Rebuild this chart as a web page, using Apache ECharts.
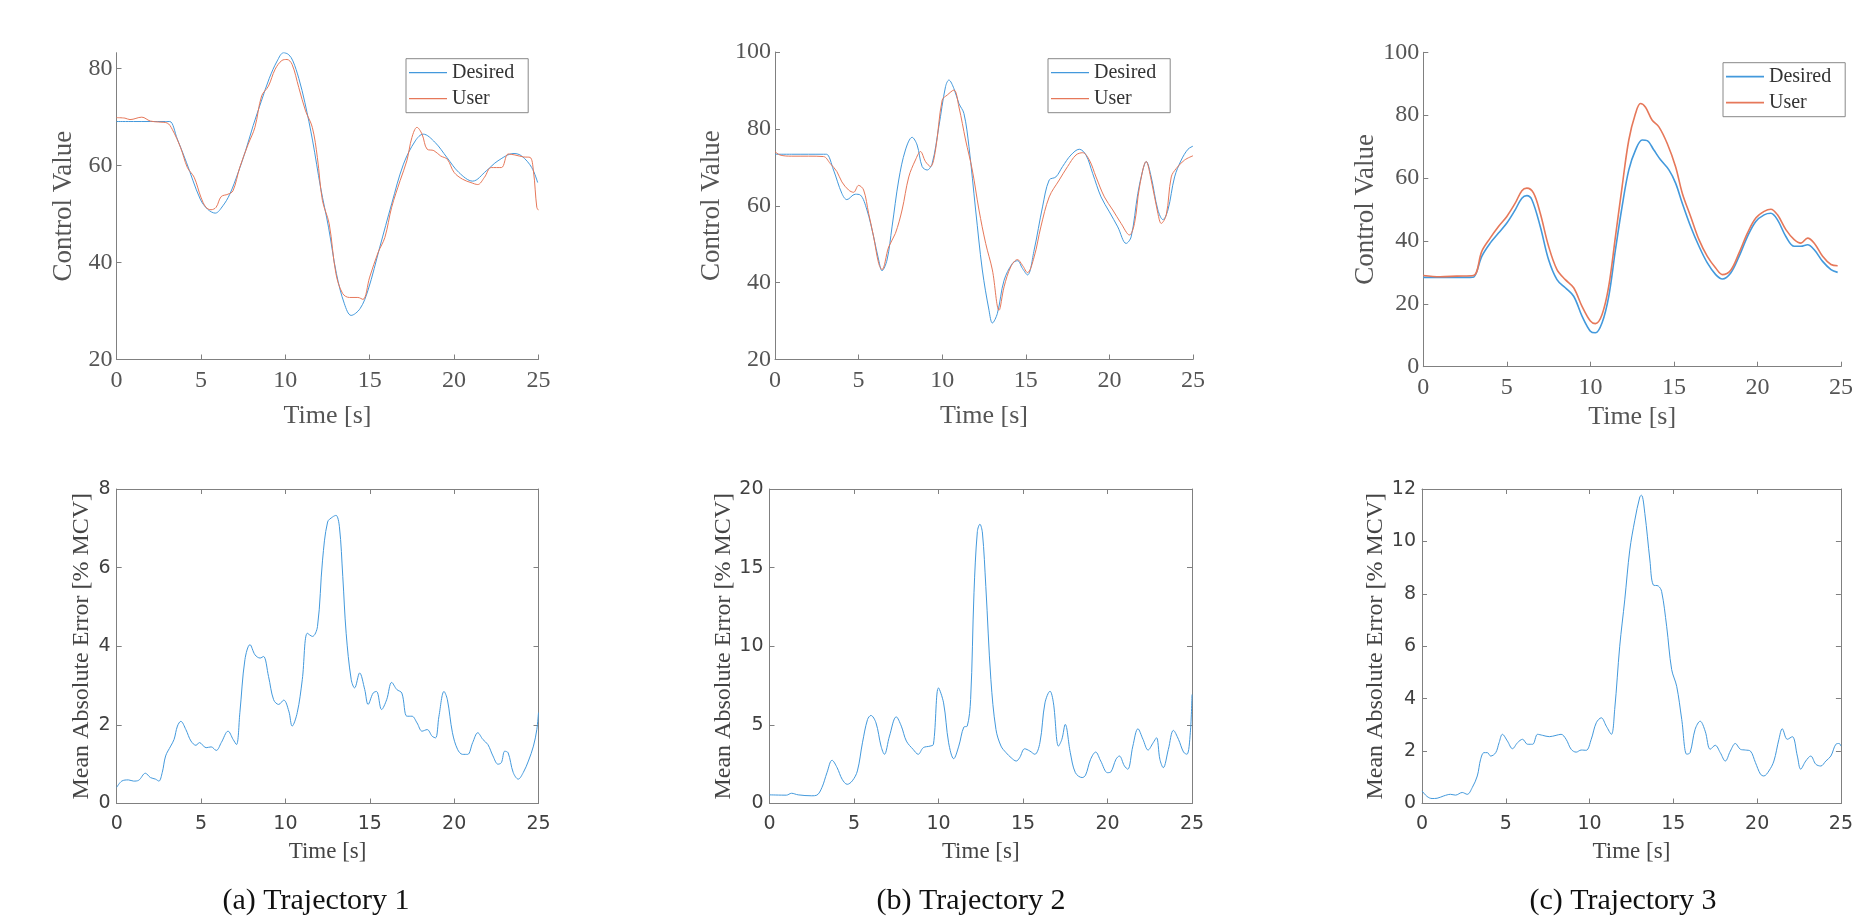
<!DOCTYPE html>
<html>
<head>
<meta charset="utf-8">
<title>Trajectories</title>
<script src="https://cdn.jsdelivr.net/npm/echarts@6/dist/echarts.min.js"></script>
<style>
  html, body { margin: 0; padding: 0; background: #fff; }
  #chart { width: 1856px; height: 919px; }
</style>
</head>
<body>
<div id="chart"></div>
<script>
// Trajectory 1 - control value
const t1DesiredTime = [0, 1, 2, 2.9, 3.16, 3.6, 4.14, 4.96, 5.4, 5.85, 6.3, 6.71, 7.2, 7.65, 8.1, 8.58, 9.05, 9.52, 9.9, 10.2, 10.45, 10.8, 11.16, 11.62, 12.09, 12.56, 13.03, 13.5, 13.9, 14.43, 14.9, 15.6, 16.3, 17.0, 17.7, 18.17, 18.87, 19.57, 20.28, 21.1, 21.9, 22.6, 23.55, 24.0, 24.6, 24.95];
const t1DesiredValue = [69.1, 69.1, 69.1, 69.1, 69.1, 65.5, 60.7, 53.1, 51.0, 50.2, 51.7, 54.1, 58.5, 63.1, 68.3, 73.3, 78.0, 81.6, 83.3, 82.9, 81.6, 78.0, 73.0, 65.1, 55.5, 47.3, 37.7, 31.5, 29.1, 30.5, 34.3, 43.2, 52.1, 60.3, 65.1, 66.5, 64.8, 61.7, 58.6, 56.8, 58.9, 61.0, 62.5, 62.0, 59.6, 56.5];
const t1UserTime = [0, 0.5, 0.8, 1.5, 2, 2.5, 3, 3.3, 3.8, 4.2, 4.6, 5, 5.3, 5.6, 5.9, 6.2, 6.6, 6.9, 7.3, 7.8, 8.2, 8.6, 9, 9.4, 9.8, 10.1, 10.4, 10.8, 11.2, 11.6, 11.9, 12.2, 12.6, 13, 13.4, 13.8, 14.3, 14.6, 15, 15.5, 15.9, 16.3, 16.8, 17.2, 17.5, 17.8, 18.1, 18.4, 18.8, 19.2, 19.6, 20, 20.5, 21, 21.4, 21.8, 22.2, 22.8, 23.2, 23.6, 24.1, 24.5, 24.7, 24.9, 25];
const t1UserValue = [69.9, 69.8, 69.5, 70.0, 69.2, 69.0, 68.8, 67.5, 63.7, 59.6, 57.6, 53.5, 51.4, 50.9, 51.4, 53.6, 54.1, 54.8, 59.6, 64.4, 67.9, 74.4, 76.4, 79.9, 81.7, 81.9, 80.9, 76.1, 71.3, 67.9, 61.7, 52.8, 48.0, 37.7, 33.6, 32.8, 32.8, 32.4, 37.0, 42.1, 45.2, 51.4, 56.9, 61.0, 65.8, 67.9, 66.5, 63.4, 63.1, 62.0, 61.3, 58.6, 57.2, 56.5, 56.1, 57.6, 59.6, 59.6, 62.4, 62.2, 61.8, 61.7, 58.9, 51.4, 50.8];

// Trajectory 2 - control value
const t2DesiredTime = [0, 1, 2, 2.9, 3.08, 3.5, 4, 4.3, 4.8, 5.1, 5.5, 5.9, 6.2, 6.4, 6.7, 7, 7.4, 7.8, 8.2, 8.5, 8.8, 9.1, 9.4, 9.8, 10.2, 10.4, 10.7, 11, 11.3, 11.6, 12, 12.4, 12.8, 13, 13.3, 13.7, 14.2, 14.5, 14.8, 15.1, 15.5, 16, 16.4, 16.8, 17.2, 17.7, 18.2, 18.6, 19, 19.5, 20, 20.5, 21, 21.3, 21.7, 22, 22.2, 22.5, 22.9, 23.2, 23.5, 23.9, 24.3, 24.7, 25];
const t2DesiredValue = [73.4, 73.4, 73.4, 73.4, 73.4, 69.3, 63.2, 61.6, 63.0, 62.8, 58.9, 51.9, 45.9, 43.1, 45.9, 54.5, 66.7, 74.5, 77.8, 75.8, 70.2, 69.3, 71.0, 80.6, 91.0, 92.7, 90.5, 86.6, 84.0, 75.4, 58.9, 43.3, 32.8, 29.5, 32.0, 40.6, 45.0, 45.7, 43.7, 42.0, 48.5, 59.7, 66.7, 67.5, 70.2, 73.2, 74.7, 73.2, 68.4, 62.3, 58.4, 54.5, 50.2, 51.9, 63.2, 69.3, 71.5, 67.5, 58.9, 56.4, 58.9, 67.5, 71.9, 74.7, 75.5];
const t2UserTime = [0, 0.3, 1, 2, 2.9, 3.3, 3.7, 4, 4.4, 4.7, 5, 5.3, 5.6, 5.9, 6.2, 6.4, 6.8, 7.2, 7.6, 8, 8.4, 8.7, 9, 9.3, 9.6, 10, 10.3, 10.7, 11, 11.4, 11.8, 12.2, 12.6, 13, 13.4, 13.7, 14.1, 14.5, 14.8, 15.1, 15.5, 15.9, 16.4, 17, 17.5, 18, 18.4, 18.8, 19.2, 19.7, 20.2, 20.7, 21.2, 21.5, 21.8, 22.2, 22.5, 22.9, 23.1, 23.4, 23.7, 24, 24.5, 25];
const t2UserValue = [74.1, 73.2, 72.9, 72.9, 72.8, 71.0, 68.9, 66.2, 64.1, 63.5, 65.3, 64.1, 58.0, 51.9, 45.0, 43.4, 49.3, 52.8, 58.9, 67.5, 71.9, 74.1, 71.5, 70.2, 74.5, 87.5, 88.8, 90.1, 85.7, 77.1, 69.3, 58.9, 50.2, 43.3, 32.8, 38.9, 44.1, 46.0, 44.5, 42.6, 46.7, 54.5, 62.3, 66.7, 70.2, 73.2, 73.8, 71.9, 67.5, 62.3, 58.9, 55.4, 52.4, 55.4, 64.9, 71.5, 66.7, 58.0, 55.4, 57.6, 67.5, 69.7, 71.9, 73.0];

// Trajectory 3 - control value
const t3DesiredTime = [0, 1, 2, 2.8, 3.02, 3.5, 4, 4.5, 5, 5.5, 5.9, 6.2, 6.5, 7, 7.5, 8, 8.5, 9, 9.5, 10, 10.3, 10.7, 11.1, 11.5, 11.9, 12.3, 12.7, 13.1, 13.4, 13.8, 14.2, 14.7, 15.1, 15.5, 16, 16.5, 17, 17.5, 17.9, 18.4, 18.9, 19.4, 19.9, 20.4, 20.8, 21.2, 21.7, 22.2, 22.6, 23, 23.4, 23.9, 24.4, 24.8];
const t3DesiredValue = [28.4, 28.4, 28.4, 28.4, 28.5, 35.1, 39.3, 42.5, 45.7, 49.9, 53.6, 54.4, 53.1, 44.6, 34.0, 27.7, 25.1, 22.4, 16.1, 11.3, 10.8, 14.0, 22.4, 37.2, 51.0, 62.6, 68.9, 72.1, 71.9, 68.9, 65.8, 62.6, 58.4, 52.0, 44.6, 38.3, 33.0, 29.3, 27.9, 29.8, 35.1, 41.4, 46.2, 48.3, 48.8, 46.7, 41.4, 38.3, 38.3, 38.8, 37.2, 33.5, 30.9, 30.0];
const t3UserTime = [0, 1, 2, 3, 3.5, 4, 4.5, 5, 5.5, 5.9, 6.2, 6.6, 7, 7.5, 8, 8.5, 9, 9.5, 10, 10.3, 10.7, 11.1, 11.5, 11.9, 12.3, 12.7, 13, 13.3, 13.7, 14.1, 14.6, 15.1, 15.5, 16, 16.5, 17, 17.5, 17.9, 18.4, 18.9, 19.4, 19.9, 20.4, 20.8, 21.2, 21.7, 22.2, 22.6, 23, 23.4, 23.9, 24.4, 24.8];
const t3UserValue = [29.0, 28.6, 28.8, 29.0, 36.7, 40.9, 44.6, 47.8, 52.0, 56.0, 56.8, 55.2, 48.8, 38.3, 30.9, 27.7, 25.1, 19.2, 14.5, 13.7, 16.6, 25.6, 41.4, 57.3, 72.1, 80.5, 83.7, 82.5, 78.4, 76.3, 71.0, 63.6, 55.2, 47.8, 40.4, 35.1, 31.4, 29.3, 30.7, 36.2, 42.5, 47.3, 49.4, 50.1, 48.3, 43.6, 40.4, 39.3, 40.9, 39.3, 35.1, 32.5, 32.1];

// Mean absolute error [% MCV]
const t1ErrorTime = [0, 0.3, 0.7, 1, 1.3, 1.7, 2, 2.3, 2.5, 2.7, 2.9, 3.2, 3.4, 3.6, 3.8, 4.1, 4.4, 4.7, 4.9, 5.3, 5.6, 5.9, 6.2, 6.6, 6.9, 7.1, 7.3, 7.6, 7.9, 8.2, 8.5, 8.7, 9, 9.3, 9.6, 9.9, 10.2, 10.4, 10.7, 11, 11.3, 11.6, 11.9, 12.2, 12.5, 12.8, 13.0, 13.2, 13.4, 13.6, 13.9, 14.1, 14.4, 14.7, 14.9, 15.2, 15.4, 15.7, 16, 16.3, 16.6, 16.9, 17.2, 17.5, 17.8, 18.1, 18.4, 18.7, 18.9, 19.1, 19.4, 19.6, 19.9, 20.2, 20.5, 20.8, 21.1, 21.4, 21.7, 22, 22.3, 22.6, 22.8, 23, 23.2, 23.5, 23.8, 24.1, 24.4, 24.7, 24.9, 25];
const t1ErrorValue = [0.41, 0.57, 0.6, 0.57, 0.59, 0.77, 0.66, 0.62, 0.57, 0.79, 1.21, 1.46, 1.63, 1.97, 2.09, 1.88, 1.59, 1.48, 1.55, 1.42, 1.44, 1.35, 1.55, 1.84, 1.63, 1.5, 2.31, 3.66, 4.04, 3.78, 3.7, 3.74, 3.23, 2.64, 2.52, 2.63, 2.35, 1.97, 2.31, 3.15, 4.33, 4.25, 4.5, 6.19, 7.16, 7.29, 7.33, 7.04, 5.77, 4.33, 3.15, 2.94, 3.32, 2.9, 2.52, 2.81, 2.85, 2.39, 2.64, 3.08, 2.9, 2.81, 2.22, 2.22, 2.05, 1.84, 1.88, 1.71, 1.67, 2.22, 2.85, 2.64, 1.8, 1.38, 1.25, 1.25, 1.55, 1.8, 1.63, 1.5, 1.21, 1.0, 1.04, 1.33, 1.29, 0.79, 0.62, 0.79, 1.08, 1.46, 1.88, 2.31];
const t2ErrorTime = [0, 1, 1.3, 1.7, 2.5, 2.8, 3.1, 3.4, 3.7, 4, 4.3, 4.6, 4.9, 5.2, 5.5, 5.8, 6, 6.3, 6.6, 6.8, 7.1, 7.5, 7.8, 8.1, 8.5, 8.8, 9.1, 9.5, 9.7, 10, 10.3, 10.6, 10.9, 11.2, 11.5, 11.7, 11.9, 12.1, 12.3, 12.45, 12.6, 12.8, 13.1, 13.4, 13.7, 14, 14.3, 14.6, 14.8, 15.1, 15.4, 15.7, 16, 16.3, 16.6, 16.8, 17.1, 17.3, 17.5, 17.8, 18.1, 18.5, 18.7, 19, 19.3, 19.6, 20, 20.2, 20.5, 20.7, 21, 21.2, 21.5, 21.8, 22.1, 22.4, 22.7, 22.9, 23.1, 23.3, 23.6, 23.9, 24.2, 24.5, 24.7, 24.9, 25];
const t2ErrorValue = [0.55, 0.53, 0.65, 0.55, 0.49, 0.53, 1.01, 1.96, 2.75, 2.28, 1.54, 1.22, 1.44, 2.07, 3.86, 5.34, 5.6, 5.13, 3.65, 3.13, 4.29, 5.51, 4.92, 3.97, 3.44, 3.13, 3.55, 3.65, 3.76, 7.35, 6.4, 3.86, 2.85, 3.65, 4.86, 4.92, 6.61, 13.4, 17.3, 17.76, 17.2, 13.8, 7.88, 4.71, 3.65, 3.23, 2.91, 2.7, 2.91, 3.48, 3.34, 3.13, 3.86, 6.4, 7.14, 6.4, 3.65, 4.08, 5.03, 3.23, 1.96, 1.65, 1.8, 2.81, 3.27, 2.7, 1.96, 2.01, 2.81, 3.02, 2.39, 2.18, 3.65, 4.75, 4.08, 3.4, 3.86, 4.18, 2.81, 2.28, 3.44, 4.65, 4.08, 3.27, 3.13, 4.5, 6.93];
const t3ErrorTime = [0, 0.3, 0.6, 0.9, 1.3, 1.7, 2, 2.4, 2.7, 3, 3.3, 3.5, 3.7, 3.9, 4.1, 4.4, 4.6, 4.8, 5.1, 5.4, 5.7, 6, 6.3, 6.6, 6.9, 7.2, 7.6, 8, 8.3, 8.6, 8.9, 9.2, 9.5, 9.8, 10.1, 10.4, 10.7, 11, 11.3, 11.5, 11.8, 12.1, 12.4, 12.7, 13, 13.1, 13.3, 13.6, 13.8, 14.1, 14.3, 14.6, 14.9, 15.2, 15.5, 15.8, 16, 16.3, 16.6, 16.9, 17.2, 17.5, 17.8, 18.1, 18.4, 18.7, 19, 19.3, 19.6, 19.9, 20.2, 20.4, 20.7, 21, 21.3, 21.5, 21.8, 22.1, 22.4, 22.6, 22.9, 23.2, 23.5, 23.8, 24.1, 24.4, 24.7, 24.9, 25];
const t3ErrorValue = [0.48, 0.27, 0.19, 0.2, 0.29, 0.35, 0.32, 0.42, 0.35, 0.61, 1.05, 1.69, 1.94, 1.94, 1.81, 1.94, 2.32, 2.64, 2.38, 2.09, 2.32, 2.45, 2.26, 2.26, 2.64, 2.6, 2.55, 2.6, 2.64, 2.45, 2.07, 1.96, 2.04, 2.03, 2.45, 3.08, 3.27, 2.95, 2.64, 3.59, 6.0, 7.77, 9.67, 10.81, 11.7, 11.76, 11.06, 9.29, 8.34, 8.3, 8.09, 6.76, 5.11, 4.47, 3.21, 1.88, 1.94, 2.83, 3.14, 2.76, 2.07, 2.22, 1.94, 1.62, 2.0, 2.29, 2.07, 2.04, 2.0, 1.56, 1.12, 1.05, 1.24, 1.62, 2.45, 2.85, 2.45, 2.55, 1.81, 1.31, 1.62, 1.81, 1.5, 1.43, 1.62, 1.81, 2.26, 2.29, 2.19];

// tick labels
const timeTicks = [0, 5, 10, 15, 20, 25];
const t1ControlTicks = [20, 40, 60, 80];
const t2ControlTicks = [20, 40, 60, 80, 100];
const t3ControlTicks = [0, 20, 40, 60, 80, 100];
const t1ErrorTicks = [0, 2, 4, 6, 8];
const t2ErrorTicks = [0, 5, 10, 15, 20];
const t3ErrorTicks = [0, 2, 4, 6, 8, 10, 12];
const captions = ['(a) Trajectory 1', '(b) Trajectory 2', '(c) Trajectory 3'];

const pairs = (ts, vs) => ts.map((t, i) => [t, vs[i]]);

const BLUE = '#4399dc';
const ORANGE = '#e6785a';
const GRAY = '#808080';
const SERIF = 'Liberation Serif';
const SANS = 'DejaVu Sans';

const grids = [
  { left: 116.5, top: 52.7, width: 422, height: 306.8 },
  { left: 775, top: 52, width: 418, height: 307.5 },
  { left: 1423.3, top: 52.3, width: 421.7, height: 314.4 },
  { left: 116.7, top: 489, width: 421.8, height: 314.5 },
  { left: 769.5, top: 489, width: 422.5, height: 314.5 },
  { left: 1422, top: 489, width: 423, height: 314.5 }
];

const lineAxis = {
  axisLine: { show: true, onZero: false, lineStyle: { color: GRAY, width: 1 } },
  axisTick: { inside: true, length: 5, lineStyle: { color: GRAY } },
  splitLine: { show: false }
};

// top row: only left/bottom lines, LaTeX-ish serif labels
const topX = (gridIndex, nameGap) => ({
  ...lineAxis,
  gridIndex, type: 'value', min: 0, max: 25, interval: 5,
  axisTick: { ...lineAxis.axisTick, customValues: timeTicks },
  axisLabel: { customValues: timeTicks, fontFamily: SERIF, fontSize: 24, color: '#555', margin: 9 },
  name: 'Time [s]', nameLocation: 'middle', nameGap,
  nameTextStyle: { fontFamily: SERIF, fontSize: 26, color: '#555' }
});
const topY = (gridIndex, min, max, ticks, nameGap) => ({
  ...lineAxis,
  gridIndex, type: 'value', min, max,
  axisTick: { ...lineAxis.axisTick, customValues: ticks },
  axisLabel: { customValues: ticks, fontFamily: SERIF, fontSize: 24, color: '#555', margin: 4 },
  name: 'Control Value', nameLocation: 'middle', nameGap,
  nameTextStyle: { fontFamily: SERIF, fontSize: 27, color: '#555' }
});

// bottom row: full box, sans tick labels
const botX = (gridIndex) => ({
  ...lineAxis,
  gridIndex, type: 'value', min: 0, max: 25,
  axisTick: { ...lineAxis.axisTick, customValues: timeTicks },
  axisLabel: { customValues: timeTicks, fontFamily: SANS, fontSize: 19, color: '#404040', margin: 11 },
  name: 'Time [s]', nameLocation: 'middle', nameGap: 37,
  nameTextStyle: { fontFamily: SERIF, fontSize: 23, color: '#444' }
});
const botY = (gridIndex, max, ticks, nameGap) => ({
  ...lineAxis,
  gridIndex, type: 'value', min: 0, max,
  axisTick: { ...lineAxis.axisTick, customValues: ticks },
  axisLabel: { customValues: ticks, fontFamily: SANS, fontSize: 19, color: '#404040', margin: 6 },
  name: 'Mean Absolute Error [% MCV]', nameLocation: 'middle', nameGap,
  nameTextStyle: { fontFamily: SERIF, fontSize: 24, color: '#444' }
});
const mirrorX = (gridIndex) => ({
  ...lineAxis, gridIndex, type: 'value', position: 'top', min: 0, max: 25,
  axisTick: { ...lineAxis.axisTick, customValues: timeTicks },
  axisLabel: { show: false }
});
const mirrorY = (gridIndex, max, ticks) => ({
  ...lineAxis, gridIndex, type: 'value', position: 'right', min: 0, max,
  axisTick: { ...lineAxis.axisTick, customValues: ticks },
  axisLabel: { show: false }
});

const xAxis = [
  topX(0, 44), topX(1, 44), topX(2, 37),
  botX(3), botX(4), botX(5),
  mirrorX(3), mirrorX(4), mirrorX(5)
];
const yAxis = [
  topY(0, 20, 83.3, t1ControlTicks, 39),
  topY(1, 20, 100, t2ControlTicks, 50),
  topY(2, 0, 100, t3ControlTicks, 44),
  botY(3, 8, t1ErrorTicks, 23),
  botY(4, 20, t2ErrorTicks, 34),
  botY(5, 12, t3ErrorTicks, 34),
  mirrorY(3, 8, t1ErrorTicks),
  mirrorY(4, 20, t2ErrorTicks),
  mirrorY(5, 12, t3ErrorTicks)
];

const line = (name, idx, data, color, width) => ({
  name, type: 'line', xAxisIndex: idx, yAxisIndex: idx,
  data, symbol: 'none', smooth: 0.35, silent: true,
  lineStyle: { color, width }, itemStyle: { color }
});

const series = [
  line('Desired', 0, pairs(t1DesiredTime, t1DesiredValue), BLUE, 1),
  line('User', 0, pairs(t1UserTime, t1UserValue), ORANGE, 1),
  line('Desired', 1, pairs(t2DesiredTime, t2DesiredValue), BLUE, 1),
  line('User', 1, pairs(t2UserTime, t2UserValue), ORANGE, 1),
  line('Desired', 2, pairs(t3DesiredTime, t3DesiredValue), BLUE, 1.6),
  line('User', 2, pairs(t3UserTime, t3UserValue), ORANGE, 1.6),
  line('Error', 3, pairs(t1ErrorTime, t1ErrorValue), BLUE, 1),
  line('Error', 4, pairs(t2ErrorTime, t2ErrorValue), BLUE, 1),
  line('Error', 5, pairs(t3ErrorTime, t3ErrorValue), BLUE, 1)
];

// plain line swatch, no marker
const legendAt = (left, top, thick) => ({
  data: ['Desired', 'User'], orient: 'vertical', left, top,
  icon: 'rect', itemWidth: 38, itemHeight: thick,
  itemGap: 6, padding: [4, 14, 4, 3],
  borderColor: '#888', borderWidth: 1, backgroundColor: '#fff',
  selectedMode: false,
  textStyle: { fontFamily: SERIF, fontSize: 20, color: '#333', lineHeight: 20 }
});

const captionX = [316, 971, 1623];
const graphic = captions.map((text, i) => ({
  type: 'text', x: captionX[i], y: 901, silent: true,
  style: {
    text, font: '30px "Liberation Serif"', fill: '#111',
    textAlign: 'center', textVerticalAlign: 'middle', align: 'center', verticalAlign: 'middle'
  }
}));

const chart = echarts.init(document.getElementById('chart'));
chart.setOption({
  backgroundColor: '#fff',
  animation: false,
  grid: grids,
  xAxis,
  yAxis,
  legend: [legendAt(406, 58.7, 1.2), legendAt(1048, 58.7, 1.2), legendAt(1723, 62.7, 1.8)],
  graphic,
  series
});
</script>
</body>
</html>
